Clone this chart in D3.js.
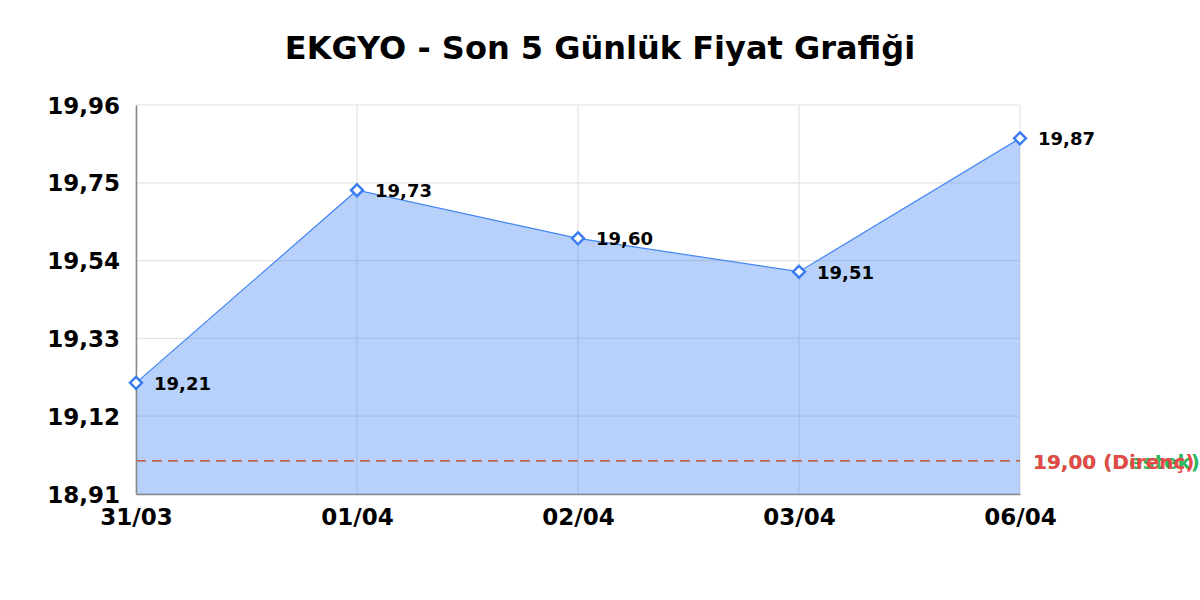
<!DOCTYPE html>
<html><head><meta charset="utf-8">
<script src="https://cdn.jsdelivr.net/npm/d3@7"></script>
<style>body{margin:0;background:#fff}svg{display:block}</style>
</head><body>
<svg id="c" width="1200" height="600"></svg>
<script>
const title = "EKGYO - Son 5 Günlük Fiyat Grafiği";
const dates = ["31/03","01/04","02/04","03/04","06/04"];
const prices = [19.21, 19.73, 19.60, 19.51, 19.87];
const yTicks = [18.91, 19.12, 19.33, 19.54, 19.75, 19.96];
const levels = [
  {value: 19.00, label: "Destek", color: "#2eb85c"},
  {value: 19.00, label: "Direnç", color: "#e84848"}
];
const fmt = v => v.toFixed(2).replace(".", ",");

const svg = d3.select("#c");
const m = {l:136, r:180, t:105, b:106};
const W = 1200, H = 600;
const x = d3.scalePoint().domain(dates).range([m.l, W - m.r]);
const y = d3.scaleLinear().domain([18.91, 19.96]).range([H - m.b, m.t]);
const font = "DejaVu Sans, sans-serif";

svg.append("text").attr("x", 600).attr("y", 59).attr("text-anchor","middle")
  .attr("font-family", font).attr("font-weight","bold").attr("font-size", 32).text(title);

// grid
const g = svg.append("g");
g.selectAll(".hg").data(yTicks).join("line")
  .attr("x1", m.l).attr("x2", W - m.r).attr("y1", d=>y(d)).attr("y2", d=>y(d))
  .attr("stroke","#e3e3e3").attr("stroke-width",1.2);
g.selectAll(".vg").data(dates).join("line")
  .attr("x1", d=>x(d)).attr("x2", d=>x(d)).attr("y1", m.t).attr("y2", H - m.b)
  .attr("stroke","#e3e3e3").attr("stroke-width",1.2);

// area
const data = dates.map((d,i)=>({d, v: prices[i]}));
svg.append("path").datum(data)
  .attr("d", d3.area().x(p=>x(p.d)).y0(y(18.91)).y1(p=>y(p.v)))
  .attr("fill","#4285f4").attr("fill-opacity",0.38);
svg.append("path").datum(data)
  .attr("d", d3.line().x(p=>x(p.d)).y(p=>y(p.v)))
  .attr("fill","none").attr("stroke","#4285f4").attr("stroke-width",1.2);

// level lines
levels.forEach(l=>{
  svg.append("line").attr("x1", m.l).attr("x2", W - m.r).attr("y1", y(l.value)).attr("y2", y(l.value))
    .attr("stroke", l.color).attr("stroke-opacity",0.85).attr("stroke-width",1.5).attr("stroke-dasharray","10,6");
  svg.append("text").attr("x", W - m.r + 13).attr("y", y(l.value) + 8)
    .attr("font-family", font).attr("font-weight","bold").attr("font-size",20)
    .attr("fill", l.color).text(fmt(l.value) + " (" + l.label + ")");
});

// axes
const ya = svg.append("g").attr("transform",`translate(${m.l},0)`)
  .call(d3.axisLeft(y).tickValues(yTicks).tickFormat(fmt).tickSize(0).tickPadding(16));
ya.select(".domain").attr("stroke","#888").attr("stroke-width",1.5);
ya.selectAll("text").attr("font-family", font).attr("font-weight","bold").attr("font-size",23).attr("fill","#000").attr("dy","0.35em");
const xa = svg.append("g").attr("transform",`translate(0,${H - m.b})`)
  .call(d3.axisBottom(x).tickSize(0).tickPadding(15));
xa.select(".domain").attr("stroke","#888").attr("stroke-width",1.5);
xa.selectAll("text").attr("font-family", font).attr("font-weight","bold").attr("font-size",23).attr("fill","#000");

// markers
svg.selectAll(".mk").data(data).join("path")
  .attr("transform", p=>`translate(${x(p.d)},${y(p.v)})`)
  .attr("d", d3.symbol(d3.symbolDiamond2, 90)())
  .attr("fill","#fff").attr("stroke","#3b7df0").attr("stroke-width",2.5);

svg.selectAll(".lb").data(data).join("text")
  .attr("x", p=>x(p.d) + 18).attr("y", p=>y(p.v) + 7)
  .attr("font-family", font).attr("font-weight","bold").attr("font-size",18)
  .text(p=>fmt(p.v));
</script>
</body></html>
